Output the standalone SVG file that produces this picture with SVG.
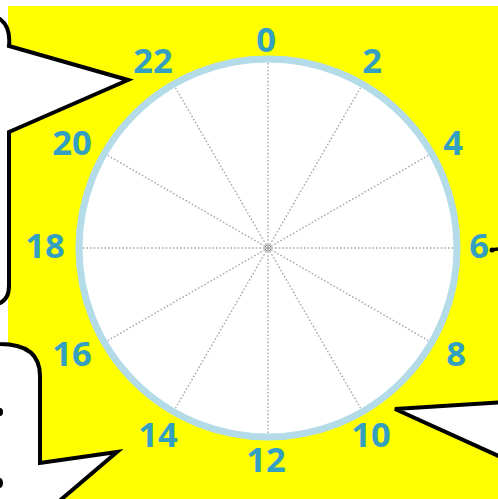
<svg xmlns="http://www.w3.org/2000/svg" width="498" height="499" viewBox="0 0 498 499">
  <style>
    .lbl { font-family: "Open Sans", "Noto Sans", "Liberation Sans", sans-serif; font-weight: 700; font-size: 34.5px; fill: #33a0c2; text-anchor: middle; }
    .spoke { stroke: #a6a6a6; stroke-width: 1.4; stroke-dasharray: 1.6 2; fill: none; }
    .callout { fill: #ffffff; stroke: #000000; stroke-width: 4; stroke-linejoin: miter; }
  </style>
  <rect x="0" y="0" width="498" height="499" fill="#ffffff"/>
  <rect x="8" y="6" width="490" height="493" fill="#ffff00"/>

  <g id="callouts">
    <path class="callout" d="M-10,18 L0,19 Q11,27 9,46 L128,80 L9,132 L9,286 Q9,300 -2,304 L-10,304 Z"/>
    <path class="callout" d="M-10,343 L0,344 C26,344 40,354 40,376 L40,463 L117,452 L57,503 L-10,503 Z"/>
    <path class="callout" d="M505,402 L395,409 L505,459 Z"/>
    <ellipse cx="0" cy="412" rx="3" ry="4" fill="#000"/>
    <ellipse cx="0" cy="483" rx="3" ry="5" fill="#000"/>
    <path d="M491,250 L498,249" stroke="#000" stroke-width="3.5" fill="none"/>
    <circle cx="492" cy="250" r="2.5" fill="#000"/>
  </g>

  <g id="dial">
    <circle cx="268" cy="248" r="189" fill="#ffffff" stroke="#b3dbe8" stroke-width="7"/>
  </g>

  <g id="connectors">
    <line class="spoke" x1="268" y1="248" x2="268" y2="63"/>
    <line class="spoke" x1="268" y1="248" x2="360.5" y2="87.8"/>
    <line class="spoke" x1="268" y1="248" x2="428.2" y2="155.5"/>
    <line class="spoke" x1="268" y1="248" x2="453" y2="248"/>
    <line class="spoke" x1="268" y1="248" x2="428.2" y2="340.5"/>
    <line class="spoke" x1="268" y1="248" x2="360.5" y2="408.2"/>
    <line class="spoke" x1="268" y1="248" x2="268" y2="433"/>
    <line class="spoke" x1="268" y1="248" x2="175.5" y2="408.2"/>
    <line class="spoke" x1="268" y1="248" x2="107.8" y2="340.5"/>
    <line class="spoke" x1="268" y1="248" x2="83" y2="248"/>
    <line class="spoke" x1="268" y1="248" x2="107.8" y2="155.5"/>
    <line class="spoke" x1="268" y1="248" x2="175.5" y2="87.8"/>
    <circle cx="268" cy="248" r="3" fill="none" stroke="#9a9a9a" stroke-width="1"/>
  </g>

  <g id="h0"><text class="lbl" x="266" y="52">0</text></g>
  <g id="h2"><text class="lbl" x="372" y="73">2</text></g>
  <g id="h4"><text class="lbl" x="453" y="155">4</text></g>
  <g id="h6"><text class="lbl" x="479" y="258">6</text></g>
  <g id="h8"><text class="lbl" x="456" y="366">8</text></g>
  <g id="h10"><text class="lbl" x="371" y="447">10</text></g>
  <g id="h12"><text class="lbl" x="266" y="472">12</text></g>
  <g id="h14"><text class="lbl" x="158" y="447">14</text></g>
  <g id="h16"><text class="lbl" x="72" y="366">16</text></g>
  <g id="h18"><text class="lbl" x="45" y="258">18</text></g>
  <g id="h20"><text class="lbl" x="72" y="155">20</text></g>
  <g id="h22"><text class="lbl" x="153" y="73">22</text></g>
</svg>
